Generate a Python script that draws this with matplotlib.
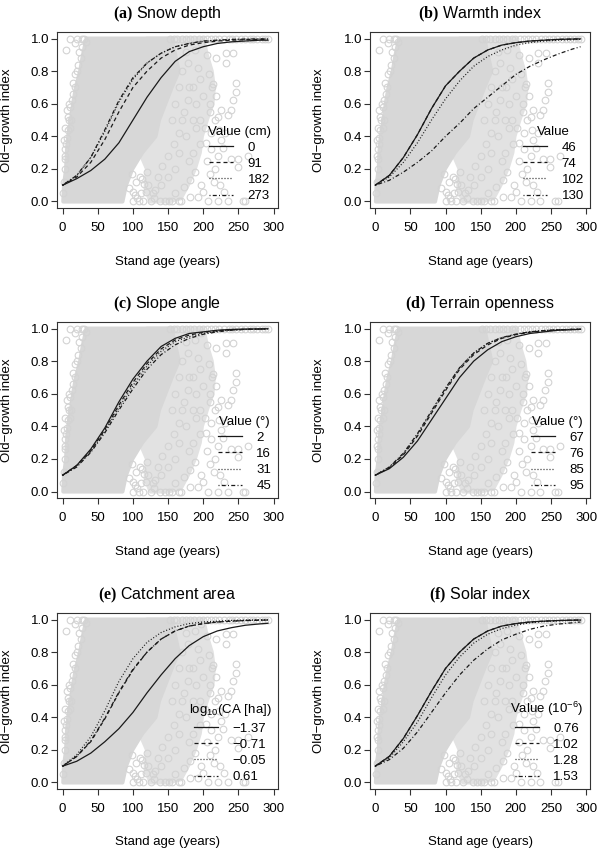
import matplotlib
matplotlib.use("Agg")
import matplotlib.pyplot as plt

plt.rcParams["font.family"] = ["Liberation Sans", "DejaVu Sans"]
plt.rcParams["mathtext.fontset"] = "custom"
plt.rcParams["mathtext.rm"] = "Liberation Sans"
plt.rcParams["mathtext.it"] = "Liberation Sans:italic"
plt.rcParams["mathtext.bf"] = "Liberation Serif:bold"
plt.rcParams["axes.unicode_minus"] = True

AGE = [0, 20, 40, 60, 80, 100, 120, 140, 160, 180, 200, 220, 240, 260, 280, 292]

# ---- scatter cloud (same observations in every panel) ----
# dense core of overlapping circles, outlined
CORE_X = [1, 2, 5, 6, 8, 12, 15, 19, 25, 29, 34, 155, 160, 165, 155, 146, 137, 132, 113, 99, 90, 85]
CORE_Y = [0, 0.1, 0.2, 0.3, 0.4, 0.5, 0.6, 0.7, 0.8, 0.9, 1.0, 1.0, 0.9, 0.8, 0.7, 0.6, 0.5, 0.4, 0.3, 0.2, 0.1, 0.0]
# looser lobe to the right of the core
LOBE_X = [120, 200, 205, 212, 215, 213, 205, 198, 195, 188, 178, 168, 150, 125, 118, 120, 110, 100]
LOBE_Y = [1.0, 1.0, 0.9, 0.8, 0.7, 0.6, 0.5, 0.4, 0.3, 0.2, 0.1, 0.02, 0.0, 0.0, 0.08, 0.2, 0.3, 0.5]
# single visible circles outside the core
PTS_X = [4.7, 10.7, 17.7, 23.8, 14.5, 13, 6, 8.4, 3.7, 10.7, 3.7, 3.7, 6, 7, 20, 27, 30, 22, 18, 9, 2, 4, 12,
         1, 2, 3, 5, 7, 11, 15, 17, 21, 26, 28, 33,
         188, 197, 218, 232, 243, 232, 246, 246, 242, 239, 235, 225, 221, 216, 223, 211, 204, 211, 221, 239,
         249, 263, 249, 216, 209, 197, 230, 207, 221, 235, 256, 260, 213, 218, 210, 225, 228, 231, 205, 200,
         215, 224,
         152, 158, 163, 170, 176, 181, 187, 194, 199, 206, 211, 217, 223, 229, 236, 241, 247, 253, 259, 266,
         271, 277, 283, 288, 292,
         118, 132, 139, 151, 155, 165, 169, 160, 172, 181, 188, 181, 193, 100, 108, 115, 125, 145, 130, 105,
         110, 98, 120, 112, 94, 103, 116, 100, 106, 113, 122, 128,
         160, 170, 175, 165, 180, 190, 185, 195, 170, 178, 160, 150, 140, 185, 195, 200, 190, 180, 205, 208,
         214, 210, 202, 196, 135, 142, 150, 158, 165, 172, 178, 186, 192, 175, 165, 155]
PTS_Y = [0.93, 1.0, 0.97, 0.92, 0.73, 0.62, 0.56, 0.5, 0.45, 0.45, 0.32, 0.2, 0.39, 0.44, 1.0, 1.0, 1.0, 0.84,
         0.78, 0.6, 0.38, 0.26, 0.5,
         0.05, 0.12, 0.28, 0.35, 0.52, 0.58, 0.66, 0.7, 0.8, 0.88, 0.95, 0.98,
         0.93, 0.97, 0.88, 0.91, 0.91, 0.85, 0.73, 0.67, 0.62, 0.56, 0.53, 0.56, 0.52, 0.5, 0.44, 0.42, 0.36,
         0.32, 0.28, 0.26, 0.26, 0.28, 0.21, 0.2, 0.17, 0.1, 0.06, 0, 0, 0, 0, 0, 0.7, 0.65, 0.6, 0.38, 0.33,
         0.42, 0.25, 0.06, 0.12, 0.1,
         1.0, 1.0, 1.0, 1.0, 1.0, 1.0, 1.0, 1.0, 1.0, 1.0, 1.0, 1.0, 1.0, 1.0, 1.0, 1.0, 1.0, 1.0, 1.0, 1.0,
         1.0, 1.0, 1.0, 1.0, 1.0,
         0.06, 0.07, 0, 0, 0, 0, 0, 0.05, 0.09, 0.13, 0.18, 0.03, 0.03, 0, 0, 0, 0, 0, 0.02, 0.12, 0.15,
         0.17, 0.18, 0.05, 0.08, 0.04, 0.11, 0.06, 0.02, 0.14, 0.1, 0.05,
         0.6, 0.5, 0.4, 0.3, 0.7, 0.6, 0.5, 0.75, 0.8, 0.85, 0.2, 0.15, 0.1, 0.3, 0.5, 0.65, 0.45, 0.25, 0.9,
         0.78, 0.72, 0.55, 0.45, 0.35, 0.15, 0.22, 0.28, 0.35, 0.42, 0.55, 0.62, 0.7, 0.82, 0.92, 0.7, 0.5]

# ---- fitted curves, one list per covariate value ----
TITLES = ["(a)", "(b)", "(c)", "(d)", "(e)", "(f)"]
NAMES = ["Snow depth", "Warmth index", "Slope angle", "Terrain openness", "Catchment area", "Solar index"]
LEG_TITLES = ["Value (cm)", "Value", "Value (°)", "Value (°)", "log$_{10}$(CA [ha])", "Value (10$^{-6}$)"]
LEVELS = [
    ["0", "91", "182", "273"],
    ["46", "74", "102", "130"],
    ["2", "16", "31", "45"],
    ["67", "76", "85", "95"],
    ["\u22121.37", "\u22120.71", "\u22120.05", "0.61"],
    ["0.76", "1.02", "1.28", "1.53"],
]
CURVES = [
    [[0.10, 0.14, 0.19, 0.26, 0.36, 0.50, 0.64, 0.76, 0.86, 0.92, 0.95, 0.97, 0.98, 0.985, 0.99, 0.99],
     [0.10, 0.15, 0.24, 0.38, 0.55, 0.70, 0.80, 0.88, 0.93, 0.96, 0.975, 0.985, 0.99, 0.993, 0.995, 0.995],
     [0.10, 0.16, 0.27, 0.43, 0.61, 0.75, 0.85, 0.91, 0.95, 0.97, 0.983, 0.99, 0.994, 0.996, 0.997, 0.998],
     [0.10, 0.16, 0.27, 0.44, 0.62, 0.76, 0.85, 0.91, 0.95, 0.97, 0.985, 0.99, 0.995, 0.997, 0.998, 0.998]],
    [[0.10, 0.16, 0.27, 0.41, 0.57, 0.71, 0.80, 0.88, 0.93, 0.96, 0.975, 0.985, 0.99, 0.995, 0.997, 0.998],
     [0.10, 0.16, 0.27, 0.41, 0.57, 0.71, 0.80, 0.88, 0.93, 0.96, 0.975, 0.985, 0.99, 0.995, 0.997, 0.998],
     [0.10, 0.15, 0.24, 0.36, 0.50, 0.63, 0.74, 0.83, 0.89, 0.93, 0.96, 0.975, 0.985, 0.99, 0.993, 0.995],
     [0.10, 0.13, 0.18, 0.24, 0.31, 0.40, 0.48, 0.57, 0.64, 0.71, 0.78, 0.83, 0.87, 0.905, 0.935, 0.95]],
    [[0.10, 0.16, 0.26, 0.39, 0.55, 0.69, 0.80, 0.89, 0.94, 0.97, 0.98, 0.99, 0.995, 0.997, 0.998, 0.999],
     [0.10, 0.16, 0.25, 0.38, 0.53, 0.67, 0.785, 0.875, 0.93, 0.96, 0.977, 0.987, 0.993, 0.996, 0.997, 0.998],
     [0.10, 0.155, 0.245, 0.37, 0.515, 0.65, 0.77, 0.86, 0.92, 0.95, 0.97, 0.984, 0.991, 0.995, 0.997, 0.998],
     [0.10, 0.15, 0.24, 0.36, 0.50, 0.63, 0.75, 0.84, 0.90, 0.94, 0.965, 0.98, 0.99, 0.995, 0.997, 0.998]],
    [[0.10, 0.14, 0.21, 0.31, 0.44, 0.57, 0.70, 0.80, 0.87, 0.92, 0.95, 0.97, 0.98, 0.99, 0.993, 0.995],
     [0.10, 0.145, 0.225, 0.34, 0.48, 0.62, 0.75, 0.84, 0.90, 0.94, 0.963, 0.978, 0.987, 0.992, 0.995, 0.996],
     [0.10, 0.15, 0.23, 0.35, 0.49, 0.63, 0.76, 0.85, 0.91, 0.945, 0.965, 0.98, 0.988, 0.993, 0.995, 0.997],
     [0.10, 0.15, 0.235, 0.355, 0.495, 0.635, 0.76, 0.85, 0.91, 0.945, 0.966, 0.98, 0.988, 0.993, 0.995, 0.997]],
    [[0.10, 0.13, 0.18, 0.25, 0.33, 0.43, 0.55, 0.66, 0.76, 0.84, 0.895, 0.93, 0.95, 0.965, 0.973, 0.977],
     [0.10, 0.16, 0.25, 0.39, 0.55, 0.69, 0.80, 0.88, 0.93, 0.96, 0.975, 0.985, 0.99, 0.994, 0.996, 0.997],
     [0.10, 0.17, 0.28, 0.44, 0.62, 0.76, 0.86, 0.92, 0.955, 0.975, 0.985, 0.99, 0.995, 0.997, 0.998, 0.998],
     [0.10, 0.16, 0.255, 0.395, 0.555, 0.695, 0.80, 0.88, 0.93, 0.96, 0.975, 0.985, 0.99, 0.994, 0.996, 0.997]],
    [[0.10, 0.16, 0.27, 0.41, 0.56, 0.70, 0.80, 0.88, 0.93, 0.96, 0.975, 0.985, 0.99, 0.994, 0.996, 0.997],
     [0.10, 0.16, 0.27, 0.41, 0.56, 0.70, 0.80, 0.88, 0.93, 0.96, 0.975, 0.985, 0.99, 0.994, 0.996, 0.997],
     [0.10, 0.15, 0.25, 0.37, 0.52, 0.66, 0.77, 0.855, 0.91, 0.945, 0.965, 0.98, 0.988, 0.992, 0.995, 0.996],
     [0.10, 0.14, 0.21, 0.31, 0.43, 0.55, 0.66, 0.75, 0.82, 0.875, 0.91, 0.94, 0.96, 0.972, 0.98, 0.985]],
]

LTY = ["-", (0, (3.2, 2.4)), (0, (0.8, 1.6)), (0, (0.8, 1.8, 3.2, 1.8))]
GREY = "#d3d3d3"
FS = 9.5

fig = plt.figure(figsize=(6.0, 8.48), dpi=100)
lefts = [0.095, 0.616]
bottoms = [0.7547, 0.4127, 0.0696]
W, H = 0.368, 0.2075

for i in range(6):
    ax = fig.add_axes([lefts[i % 2], bottoms[i // 2], W, H])
    ax.fill(LOBE_X, LOBE_Y, fc="#e2e2e2", ec="#e2e2e2", lw=3, joinstyle="round", zorder=1)
    ax.fill(CORE_X, CORE_Y, fc="#d7d7d7", ec="#d7d7d7", lw=3, joinstyle="round", zorder=2)
    ax.plot(PTS_X, PTS_Y, "o", ms=4.8, mfc="none", mec=GREY, mew=0.8, zorder=3)
    for k in range(4):
        ax.plot(AGE, CURVES[i][k], color="#1a1a1a", lw=0.9, ls=LTY[k],
                label=LEVELS[i][k], zorder=4)

    ax.set_xlim(-8, 306)
    ax.set_ylim(-0.04, 1.04)
    ax.set_xticks([0, 50, 100, 150, 200, 250, 300])
    ax.set_yticks([0.0, 0.2, 0.4, 0.6, 0.8, 1.0])
    ax.set_yticklabels(["0.0", "0.2", "0.4", "0.6", "0.8", "1.0"])
    ax.tick_params(direction="out", length=4, width=0.8, labelsize=FS, color="#333333")
    ax.tick_params(axis="x", pad=6)
    ax.tick_params(axis="y", pad=1.5)
    for sp in ax.spines.values():
        sp.set_linewidth(0.8)
        sp.set_color("#333333")

    ax.set_xlabel("Stand age (years)", fontsize=FS)
    ax.xaxis.set_label_coords(0.5, -0.27)
    ax.set_ylabel("Old\u2212growth index", fontsize=FS)
    ax.yaxis.set_label_coords(-0.2, 0.5)

    ax.set_title(r"$\mathbf{" + TITLES[i] + r"}$ " + NAMES[i], fontsize=11.5, pad=10)

    leg = ax.legend(title=LEG_TITLES[i], loc="lower right", bbox_to_anchor=(1.0, -0.005),
                    frameon=False, fontsize=FS, title_fontsize=FS, handlelength=1.8,
                    handletextpad=1.1, labelspacing=0.3, borderaxespad=0.3, borderpad=0.2)
    leg.set_zorder(5)

fig.savefig("out.png", dpi=100)
